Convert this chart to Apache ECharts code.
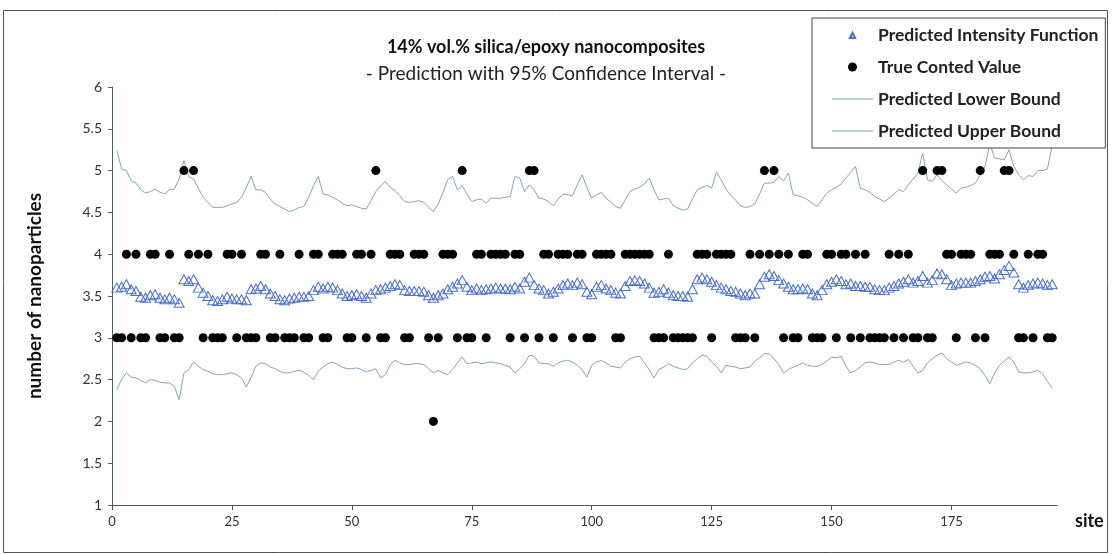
<!DOCTYPE html>
<html>
<head>
<meta charset="utf-8">
<script src="https://cdn.jsdelivr.net/npm/echarts@6/dist/echarts.min.js"></script>
<style>
  html, body { margin: 0; padding: 0; background: #fff; }
  #main { width: 1112px; height: 554px; }
</style>
</head>
<body>
<div id="main"></div>
<script>
// site index 1..196
const sites = Array.from({ length: 196 }, (_, i) => i + 1)
const xTicks = [0, 25, 50, 75, 100, 125, 150, 175]

// predicted intensity function (triangles)
const predicted = [
  3.60, 3.61, 3.64, 3.58, 3.56, 3.49, 3.48, 3.51, 3.52, 3.48,
  3.46, 3.48, 3.46, 3.42, 3.70, 3.68, 3.70, 3.60, 3.54, 3.50,
  3.45, 3.44, 3.46, 3.49, 3.47, 3.46, 3.46, 3.45, 3.58, 3.59,
  3.62, 3.58, 3.53, 3.50, 3.46, 3.45, 3.47, 3.48, 3.49, 3.49,
  3.50, 3.57, 3.61, 3.59, 3.61, 3.60, 3.57, 3.53, 3.50, 3.51,
  3.52, 3.50, 3.48, 3.53, 3.57, 3.58, 3.60, 3.62, 3.64, 3.63,
  3.57, 3.56, 3.56, 3.56, 3.55, 3.51, 3.48, 3.51, 3.53, 3.58,
  3.61, 3.65, 3.69, 3.61, 3.57, 3.59, 3.57, 3.58, 3.59, 3.60,
  3.59, 3.59, 3.58, 3.61, 3.59, 3.67, 3.72, 3.63, 3.59, 3.57,
  3.53, 3.55, 3.59, 3.63, 3.65, 3.63, 3.66, 3.64, 3.55, 3.52,
  3.61, 3.63, 3.59, 3.57, 3.54, 3.53, 3.62, 3.68, 3.69, 3.68,
  3.65, 3.60, 3.54, 3.55, 3.58, 3.54, 3.51, 3.50, 3.50, 3.49,
  3.58, 3.70, 3.72, 3.70, 3.67, 3.63, 3.60, 3.58, 3.56, 3.55,
  3.53, 3.51, 3.53, 3.53, 3.64, 3.73, 3.76, 3.74, 3.69, 3.65,
  3.61, 3.58, 3.58, 3.59, 3.58, 3.53, 3.51, 3.57, 3.64, 3.67,
  3.70, 3.68, 3.64, 3.65, 3.62, 3.62, 3.61, 3.61, 3.58, 3.57,
  3.57, 3.60, 3.62, 3.65, 3.67, 3.70, 3.66, 3.68, 3.74, 3.66,
  3.69, 3.77, 3.76, 3.70, 3.63, 3.65, 3.66, 3.66, 3.66, 3.68,
  3.70, 3.73, 3.74, 3.71, 3.76, 3.81, 3.86, 3.78, 3.64, 3.60,
  3.63, 3.65, 3.66, 3.65, 3.63, 3.64
]

// true counted value (dots)
const trueCount = [
  3, 3, 4, 3, 4, 3, 3, 4, 4, 3,
  3, 4, 3, 3, 5, 4, 5, 4, 3, 4,
  3, 3, 3, 4, 4, 3, 4, 3, 3, 3,
  4, 4, 3, 3, 4, 3, 3, 3, 4, 3,
  3, 4, 4, 3, 3, 4, 4, 4, 3, 3,
  4, 4, 3, 4, 5, 3, 3, 4, 4, 4,
  3, 3, 4, 4, 4, 3, 2, 3, 4, 4,
  4, 3, 5, 3, 3, 4, 4, 3, 4, 4,
  4, 4, 3, 4, 4, 3, 5, 5, 3, 4,
  4, 3, 4, 4, 4, 3, 4, 4, 3, 3,
  4, 4, 4, 4, 3, 3, 4, 4, 4, 4,
  4, 4, 3, 3, 3, 4, 3, 3, 3, 3,
  3, 4, 4, 4, 3, 4, 4, 4, 4, 3,
  3, 3, 4, 3, 4, 5, 4, 5, 4, 3,
  4, 3, 3, 4, 4, 3, 3, 3, 4, 4,
  3, 4, 4, 3, 4, 3, 4, 3, 3, 3,
  3, 4, 3, 4, 3, 4, 3, 3, 5, 3,
  3, 5, 5, 4, 4, 3, 4, 4, 4, 3,
  5, 3, 4, 4, 4, 5, 5, 4, 3, 3,
  4, 3, 4, 4, 3, 3
]

// 95% lower bound
const lowerBound = [
  2.38, 2.50, 2.58, 2.53, 2.52, 2.49, 2.46, 2.50, 2.49, 2.47,
  2.46, 2.46, 2.42, 2.26, 2.58, 2.62, 2.71, 2.66, 2.62, 2.60,
  2.57, 2.56, 2.56, 2.57, 2.58, 2.56, 2.52, 2.41, 2.53, 2.66,
  2.70, 2.69, 2.65, 2.63, 2.60, 2.58, 2.58, 2.60, 2.61, 2.59,
  2.55, 2.50, 2.60, 2.65, 2.69, 2.71, 2.68, 2.65, 2.63, 2.63,
  2.64, 2.62, 2.59, 2.61, 2.63, 2.52, 2.56, 2.68, 2.73, 2.70,
  2.68, 2.68, 2.69, 2.69, 2.68, 2.63, 2.58, 2.61, 2.58, 2.56,
  2.62, 2.70, 2.77, 2.69, 2.70, 2.71, 2.69, 2.70, 2.71, 2.70,
  2.69, 2.67, 2.65, 2.58, 2.63, 2.69, 2.79, 2.78, 2.70, 2.69,
  2.69, 2.66, 2.70, 2.72, 2.73, 2.71, 2.67, 2.62, 2.53, 2.67,
  2.71, 2.73, 2.70, 2.66, 2.65, 2.64, 2.71, 2.75, 2.77, 2.78,
  2.70, 2.62, 2.52, 2.62, 2.65, 2.69, 2.66, 2.64, 2.62, 2.63,
  2.70, 2.75, 2.79, 2.78, 2.71, 2.66, 2.58, 2.67, 2.66, 2.65,
  2.63, 2.64, 2.65, 2.72, 2.76, 2.81, 2.81, 2.75, 2.68, 2.58,
  2.62, 2.65, 2.67, 2.70, 2.67, 2.66, 2.66, 2.68, 2.72, 2.77,
  2.76, 2.78, 2.66, 2.58, 2.61, 2.65, 2.70, 2.71, 2.70, 2.68,
  2.68, 2.68, 2.71, 2.73, 2.71, 2.74, 2.66, 2.58, 2.61, 2.70,
  2.75, 2.79, 2.82, 2.75, 2.71, 2.67, 2.69, 2.71, 2.70, 2.67,
  2.63, 2.55, 2.45, 2.58, 2.67, 2.72, 2.77, 2.71, 2.59, 2.58,
  2.58, 2.59, 2.61, 2.57, 2.48, 2.40
]

// 95% upper bound
const upperBound = [
  5.24, 5.02, 5.00, 4.88, 4.85, 4.77, 4.73, 4.75, 4.78, 4.74,
  4.72, 4.77, 4.78, 4.90, 5.12, 4.93, 4.90, 4.79, 4.68, 4.62,
  4.56, 4.56, 4.56, 4.58, 4.60, 4.62, 4.68, 4.80, 4.93, 4.77,
  4.77, 4.74, 4.66, 4.60, 4.57, 4.54, 4.51, 4.53, 4.56, 4.57,
  4.68, 4.82, 4.93, 4.72, 4.71, 4.68, 4.65, 4.61, 4.58, 4.59,
  4.57, 4.55, 4.54, 4.64, 4.75, 4.82, 4.87, 4.80, 4.76, 4.70,
  4.63, 4.62, 4.63, 4.64, 4.62, 4.56, 4.51, 4.60, 4.74, 4.89,
  4.93, 4.77, 4.82, 4.72, 4.63, 4.65, 4.66, 4.61, 4.67, 4.67,
  4.67, 4.68, 4.69, 4.93, 4.91, 4.75, 4.83, 4.77, 4.67, 4.66,
  4.63, 4.58, 4.66, 4.72, 4.71, 4.70, 4.83, 4.95, 4.80, 4.67,
  4.71, 4.74, 4.67, 4.62, 4.57, 4.55, 4.65, 4.75, 4.78, 4.80,
  4.84, 4.91, 4.77, 4.65, 4.66, 4.67, 4.58, 4.55, 4.53, 4.54,
  4.66, 4.77, 4.80, 4.82, 4.79, 4.98, 4.89, 4.78, 4.70, 4.65,
  4.58, 4.56, 4.57, 4.60, 4.72, 4.85, 4.85, 4.86, 4.93, 4.88,
  4.97, 4.71, 4.70, 4.68, 4.65, 4.61, 4.57, 4.65, 4.73, 4.77,
  4.80, 4.84, 4.91, 4.98, 5.05, 4.79, 4.77, 4.74, 4.69, 4.66,
  4.63, 4.67, 4.72, 4.77, 4.75, 4.83, 4.90, 4.97, 5.21, 4.89,
  4.87, 4.95, 4.88, 4.83, 4.78, 4.73, 4.79, 4.80, 4.82, 4.85,
  4.95, 5.05, 5.32, 5.15, 5.14, 5.13, 5.25, 5.05, 4.95, 4.89,
  4.94, 4.93, 5.00, 5.00, 5.02, 5.30
]

const font = 'Lato, "Open Sans", sans-serif'
const boundColor = '#86a5b6'
const triColor = '#4a6fc4'

function pairs(values) {
    return sites.map((s, i) => [s, values[i]])
}

var myChart = echarts.init(document.getElementById('main'))

// 图例图标：用 path 保持比例（三角形留白，显得小一些）
const triIcon = 'path://M0,0 M12,12 M2.5,10 L6,3 L9.5,10 Z'
const lineIcon = 'path://M0,0 L41,0 L41,1 L0,1 Z'

var option = {
    backgroundColor: '#fff',
    animation: false,
    textStyle: { fontFamily: font },
    title: {
        text: '14% vol.% silica/epoxy nanocomposites',
        subtext: '- Prediction with 95% Confidence Interval -',
        left: 541,
        top: 33,
        textAlign: 'center',
        itemGap: 8,
        textStyle: { fontFamily: font, fontSize: 18, fontWeight: 'bold', color: '#111' },
        subtextStyle: { fontFamily: font, fontSize: 19, color: '#222' }
    },
    legend: {
        orient: 'vertical',
        left: 812,
        top: 18,
        padding: [8, 7, 8, 20],
        itemGap: 14,
        itemWidth: 41,
        itemHeight: 9,
        itemTextGap: 6,
        backgroundColor: '#fff',
        borderColor: '#444',
        borderWidth: 1,
        textStyle: { fontFamily: font, fontSize: 17.5, fontWeight: 'bold', color: '#222', lineHeight: 18 },
        data: [
            { name: 'Predicted Intensity Function', icon: triIcon },
            { name: 'True Conted Value', icon: 'circle' },
            { name: 'Predicted Lower Bound', icon: lineIcon },
            { name: 'Predicted Upper Bound', icon: lineIcon }
        ]
    },
    grid: { left: 112, right: 55, top: 87, bottom: 49 },
    xAxis: {
        type: 'value',
        min: 0,
        max: 197,
        interval: 25,
        name: 'site',
        nameLocation: 'end',
        nameGap: 18,
        nameTextStyle: { fontFamily: font, fontSize: 18, fontWeight: 'bold', color: '#111', verticalAlign: 'top', padding: [7, 0, 0, 0] },
        axisLine: { lineStyle: { color: '#555', width: 1 } },
        axisTick: { show: true, length: 5, customValues: xTicks, lineStyle: { color: '#555' } },
        axisLabel: { customValues: xTicks, fontSize: 13, color: '#333', margin: 10 },
        splitLine: { show: false }
    },
    yAxis: {
        type: 'value',
        min: 1,
        max: 6,
        interval: 0.5,
        name: 'number of nanoparticles',
        nameLocation: 'middle',
        nameGap: 68,
        nameTextStyle: { fontFamily: font, fontSize: 19, fontWeight: 'bold', color: '#111' },
        axisLine: { show: true, lineStyle: { color: '#4b5f6e', width: 1 } },
        axisTick: { show: true, length: 4, lineStyle: { color: '#4b5f6e' } },
        axisLabel: { fontSize: 14, color: '#333', margin: 10 },
        splitLine: { show: false }
    },
    graphic: [{
        type: 'rect',
        silent: true,
        z: -10,
        shape: { x: 3.5, y: 10.5, width: 1104, height: 542 },
        style: { fill: 'none', stroke: '#555', lineWidth: 1 }
    }],
    series: [
        {
            name: 'Predicted Lower Bound',
            type: 'line',
            data: pairs(lowerBound),
            symbol: 'none',
            lineStyle: { color: boundColor, width: 1 },
            itemStyle: { color: boundColor },
            z: 1
        },
        {
            name: 'Predicted Upper Bound',
            type: 'line',
            data: pairs(upperBound),
            symbol: 'none',
            lineStyle: { color: boundColor, width: 1 },
            itemStyle: { color: boundColor },
            z: 1
        },
        {
            name: 'Predicted Intensity Function',
            type: 'scatter',
            data: pairs(predicted),
            symbol: 'triangle',
            symbolSize: [10, 9],
            itemStyle: { color: 'rgba(255,255,255,0)', borderColor: triColor, borderWidth: 1, opacity: 1 },
            z: 3
        },
        {
            name: 'True Conted Value',
            type: 'scatter',
            data: pairs(trueCount),
            symbol: 'circle',
            symbolSize: 9,
            itemStyle: { color: '#000', opacity: 1 },
            z: 4
        }
    ]
}

myChart.setOption(option)
</script>
</body>
</html>
